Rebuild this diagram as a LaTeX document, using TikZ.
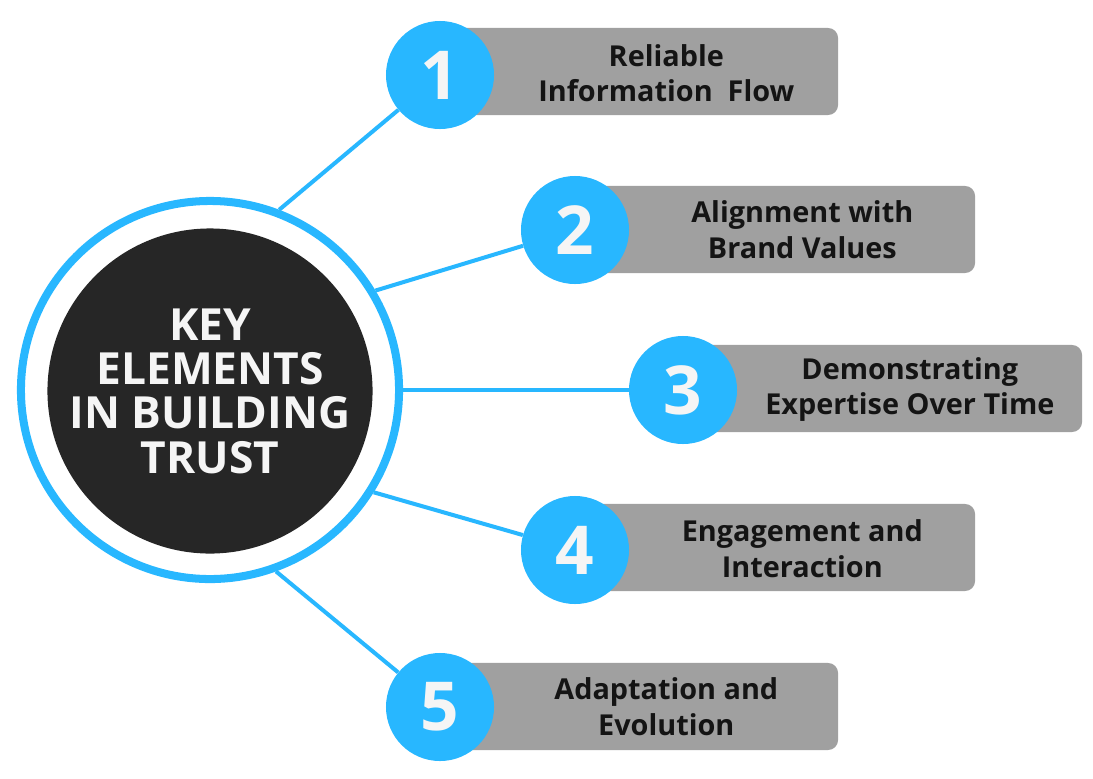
\documentclass[tikz,border=0pt]{standalone}
\usepackage{fontspec}
\setmainfont{Open Sans}
\usetikzlibrary{calc}
\definecolor{trustblue}{RGB}{40,183,255}
\definecolor{trustgrey}{RGB}{160,160,160}
\definecolor{trustdark}{RGB}{38,38,38}
\definecolor{trustwhite}{RGB}{245,245,245}

\begin{document}
\begin{tikzpicture}[x=0.025cm, y=-0.025cm,
    ring/.style={circle, draw=trustblue, line width=5.7pt, minimum size=9.45cm, inner sep=0pt},
    core/.style={circle, fill=trustdark, minimum size=7.65cm, inner sep=0pt, text=trustwhite,
        align=center, font=\bfseries\fontsize{31.5}{31.5}\selectfont},
    spoke/.style={draw=trustblue, line width=2.85pt},
    numdot/.style={circle, fill=trustblue, minimum size=2.7cm, inner sep=0pt, text=trustwhite,
        font=\bfseries\fontsize{48}{48}\selectfont},
    tag/.style={fill=trustgrey, rounded corners=0.25cm, minimum height=2.175cm, inner sep=0pt},
    tagtext/.style={align=center, text=black!92, font=\bfseries\fontsize{20.5}{25}\selectfont}]

        \path[use as bounding box, fill=white] (0,0) rectangle (1093,778);

        % centre
        \node[ring] (outer) at (210,390) {};
        \node[core] (centre) at (210,391) {KEY\\ELEMENTS\\IN BUILDING\\TRUST};

        % tags
        \node[tag, minimum width=9.95cm] (b1) at (639,71.5) {};
        \node[tag, minimum width=10cm] (b2) at (775,229.5) {};
        \node[tag, minimum width=9.975cm] (b3) at (882.5,388.5) {};
        \node[tag, minimum width=10cm] (b4) at (775,547.5) {};
        \node[tag, minimum width=9.95cm] (b5) at (639,706.5) {};

        % numbers
        \node[numdot] (n1) at (440,75) {1};
        \node[numdot] (n2) at (575,230) {2};
        \node[numdot] (n3) at (683,390) {3};
        \node[numdot] (n4) at (575,550) {4};
        \node[numdot] (n5) at (440,707) {5};

        \node[tagtext] (t1) at ($(n1.east)!0.5!(b1.east)$) {Reliable\\Information\ \ Flow};
        \node[tagtext] (t2) at ($(n2.east)!0.5!(b2.east)$) {Alignment with\\Brand Values};
        \node[tagtext] (t3) at ($(n3.east)!0.5!(b3.east)$) {Demonstrating\\Expertise Over Time};
        \node[tagtext] (t4) at ($(n4.east)!0.5!(b4.east)$) {Engagement and\\Interaction};
        \node[tagtext] (t5) at ($(n5.east)!0.5!(b5.east)$) {Adaptation and\\Evolution};

        % spokes
        \draw[spoke] (outer.69.5) -- (n1);
        \draw[spoke] (outer.31) -- (n2);
        \draw[spoke] (outer.0) -- (n3);
        \draw[spoke] (outer.-32.5) -- (n4);
        \draw[spoke] (outer.-70.5) -- (n5);
    \end{tikzpicture}
\end{document}
